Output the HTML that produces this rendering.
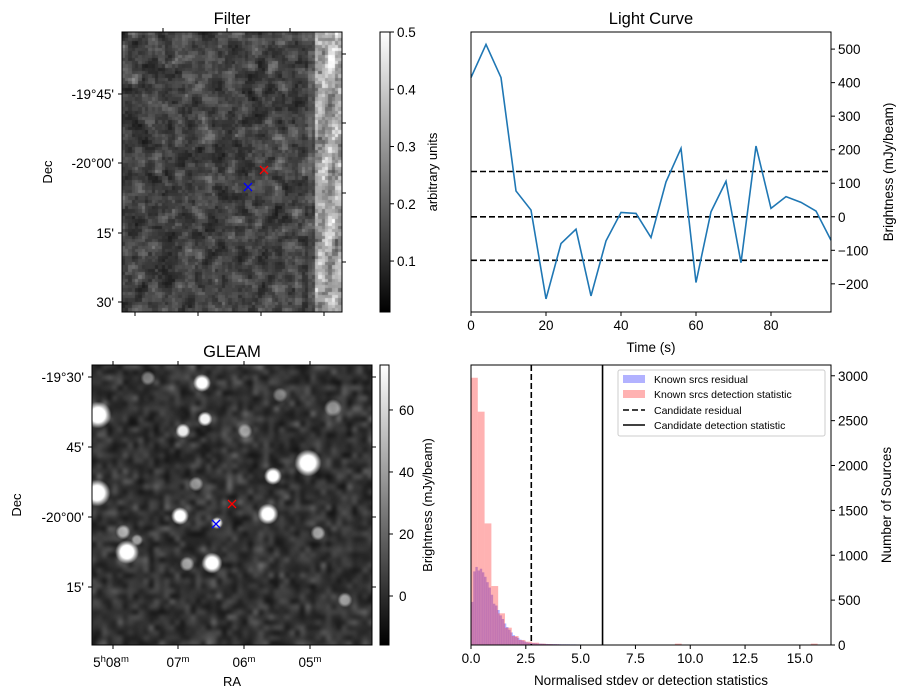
<!DOCTYPE html>
<html><head><meta charset="utf-8">
<style>
body{margin:0;background:#fff;}
#wrap{position:relative;width:907px;height:699px;overflow:hidden;font-family:"Liberation Sans","DejaVu Sans",sans-serif;}
canvas{position:absolute;}
svg{position:absolute;left:0;top:0;}
text{font-family:"Liberation Sans","DejaVu Sans",sans-serif;fill:#000;}
</style></head>
<body>
<div id="wrap">
<canvas id="filterImg" width="220" height="280" style="left:122px;top:32px;width:220px;height:280px"></canvas>
<canvas id="gleamImg" width="280" height="280" style="left:92px;top:365px;width:280px;height:280px"></canvas>
<svg id="svg" width="907" height="699">
<defs>
<linearGradient id="cbar" x1="0" y1="1" x2="0" y2="0"><stop offset="0" stop-color="#000"/><stop offset="1" stop-color="#fff"/></linearGradient>
</defs>
</svg>
</div>
<script>
// ---------- Light curve data ----------
const lcTimes = [0,4,8,12,16,20,24,28,32,36,40,44,48,52,56,60,64,68,72,76,80,84,88,92,96];
const lcValues = [415,514,415,77,20,-245,-80,-37,-236,-72,13,10,-62,104,204,-196,15,106,-137,211,25,60,43,17,-70];
const lcThresholds = [135,0,-130];
const lcXTicks = [0,20,40,60,80];
const lcYTicks = [-200,-100,0,100,200,300,400,500];
// ---------- Histogram data ----------
const redBinWidth = 0.31;
const redCounts = [2978,2600,1355,657,353,193,100,56,37,26,15,10,8,6,5,5,4,4,3,3,2,0,2,0,0,0,0,0,0,0,15,0,0,0,0,0,0,0,0,0,0,0,0,0,0,0,0,0,0,0,15];
const blueBinWidth = 0.1;
const blueCounts = [480,820,870,830,850,810,760,700,640,560,460,440,390,330,290,240,200,170,140,110,90,80,60,50,40,30,25,20,20,18,16,15,14,12,12,11,10,10,10,9,9,8,8,8,8,7,7,7,6,6];
const candResidual = 2.75;
const candDetection = 6.0;
const histXTicks = [0,2.5,5,7.5,10,12.5,15];
const histXLabels = ["0.0","2.5","5.0","7.5","10.0","12.5","15.0"];
const histYTicks = [0,500,1000,1500,2000,2500,3000];
// ---------- Image axes ----------
const filterYTickLabels = ["-19°45'","-20°00'","15'","30'"];
const gleamYTickLabels = ["-19°30'","45'","-20°00'","15'"];
const gleamXTickLabels = ["08","07","06","05"];
const filterCbarTicks = [0.1,0.2,0.3,0.4,0.5];
const gleamCbarTicks = [0,20,40,60];
const gleamSources = [[202,383,6,1],[98,415,9,1],[205,419,5,0.95],[183,431,5,0.9],[245,431,5,0.5],[308,463,9,1],[273,476,6,1],[97,493,9,1],[196,484,5,0.5],[180,516,6,1],[217,523,4,0.9],[268,514,7,1],[123,532,5,0.6],[127,552,8,1],[137,540,4,0.5],[212,563,7,1],[187,564,5,0.55],[318,533,5,0.55],[345,600,5,0.5],[333,408,6,0.45],[148,378,5,0.4],[280,395,5,0.35]];

const NS="http://www.w3.org/2000/svg";
const svg=document.getElementById('svg');
function mk(tag,attrs,parent,name,inter){const e=document.createElementNS(NS,tag);for(const k in attrs)e.setAttribute(k,attrs[k]);


(parent||svg).appendChild(e);return e;}
function txt(s,x,y,opts,name){const o=Object.assign({x:x,y:y,'font-size':13.5},opts||{});const t=mk('text',o,opts&&opts.parent||svg,name);t.removeAttribute('parent');t.textContent=s;return t;}

// ===== Light curve =====
const LC={l:471,r:831,t:32,b:312,x0:0,x1:96,y0:-284,y1:551};
const lx=v=>LC.l+(v-LC.x0)/(LC.x1-LC.x0)*(LC.r-LC.l);
const ly=v=>LC.b-(v-LC.y0)/(LC.y1-LC.y0)*(LC.b-LC.t);
const gLC=mk('g',{},svg,'light-curve-panel');
lcThresholds.forEach((v,i)=>mk('line',{x1:LC.l,x2:LC.r,y1:ly(v),y2:ly(v),stroke:'#000','stroke-width':1.6,'stroke-dasharray':'6,3'},gLC,'threshold-line-'+i));
mk('polyline',{points:lcTimes.map((t,i)=>lx(t)+','+ly(lcValues[i])).join(' '),fill:'none',stroke:'#1f77b4','stroke-width':1.6},gLC,'light-curve-line');
mk('rect',{x:LC.l,y:LC.t,width:LC.r-LC.l,height:LC.b-LC.t,fill:'none',stroke:'#000','stroke-width':1},gLC,'light-curve-frame');
lcXTicks.forEach(v=>{mk('line',{x1:lx(v),x2:lx(v),y1:LC.b,y2:LC.b+4,stroke:'#000'},gLC,'x-tick');txt(String(v),lx(v),LC.b+18,{'text-anchor':'middle',parent:gLC},'x-tick-label');});
lcYTicks.forEach(v=>{mk('line',{x1:LC.r,x2:LC.r+4,y1:ly(v),y2:ly(v),stroke:'#000'},gLC,'y-tick');txt(String(v).replace('-','\u2212'),LC.r+7,ly(v)+5,{parent:gLC},'y-tick-label');});
txt('Light Curve',651,24,{'text-anchor':'middle','font-size':16.5,parent:gLC},'light-curve-title');
txt('Time (s)',651,352,{'text-anchor':'middle',parent:gLC},'x-axis-title');
txt('Brightness (mJy/beam)',0,0,{'text-anchor':'middle',transform:'translate(893,172) rotate(-90)',parent:gLC},'y-axis-title');

// ===== Histogram =====
const H={l:471,r:831,t:365,b:645,x0:0,x1:16.42,y0:0,y1:3120};
const hx=v=>H.l+(v-H.x0)/(H.x1-H.x0)*(H.r-H.l);
const hy=v=>H.b-(v-H.y0)/(H.y1-H.y0)*(H.b-H.t);
const gH=mk('g',{},svg,'histogram-panel');
blueCounts.forEach((c,i)=>{if(c>0)mk('rect',{x:hx(i*blueBinWidth),y:hy(c),width:hx((i+1)*blueBinWidth)-hx(i*blueBinWidth)+0.2,height:H.b-hy(c),fill:'rgb(0,0,255)','fill-opacity':0.3},gH,'blue-bar-'+i);});
redCounts.forEach((c,i)=>{if(c>0)mk('rect',{x:hx(i*redBinWidth),y:hy(c),width:hx((i+1)*redBinWidth)-hx(i*redBinWidth),height:H.b-hy(c),fill:'rgb(255,0,0)','fill-opacity':0.3},gH,'red-bar-'+i);});
mk('line',{x1:hx(candResidual),x2:hx(candResidual),y1:H.t,y2:H.b,stroke:'#000','stroke-width':1.6,'stroke-dasharray':'6,3'},gH,'candidate-residual-line');
mk('line',{x1:hx(candDetection),x2:hx(candDetection),y1:H.t,y2:H.b,stroke:'#000','stroke-width':1.6},gH,'candidate-detection-line');
mk('rect',{x:H.l,y:H.t,width:H.r-H.l,height:H.b-H.t,fill:'none',stroke:'#000'},gH,'histogram-frame');
histXTicks.forEach((v,i)=>{mk('line',{x1:hx(v),x2:hx(v),y1:H.b,y2:H.b+4,stroke:'#000'},gH,'x-tick');txt(histXLabels[i],hx(v),H.b+18,{'text-anchor':'middle',parent:gH},'x-tick-label');});
histYTicks.forEach(v=>{mk('line',{x1:H.r,x2:H.r+4,y1:hy(v),y2:hy(v),stroke:'#000'},gH,'y-tick');txt(String(v),H.r+7,hy(v)+5,{parent:gH},'y-tick-label');});
txt('Normalised stdev or detection statistics',651,685,{'text-anchor':'middle',parent:gH},'x-axis-title');
txt('Number of Sources',0,0,{'text-anchor':'middle',transform:'translate(891,505) rotate(-90)',parent:gH},'y-axis-title');
// legend
const gL=mk('g',{},gH,'legend');
mk('rect',{x:618,y:370,width:207,height:66,rx:2,fill:'#fff','fill-opacity':0.8,stroke:'#ccc'},gL,'legend-box');
mk('rect',{x:623,y:375,width:22,height:8,fill:'rgb(0,0,255)','fill-opacity':0.3},gL,'legend-patch-blue');
txt('Known srcs residual',654,383,{'font-size':10.5,parent:gL},'legend-entry');
mk('rect',{x:623,y:390,width:22,height:8,fill:'rgb(255,0,0)','fill-opacity':0.3},gL,'legend-patch-red');
txt('Known srcs detection statistic',654,398,{'font-size':10.5,parent:gL},'legend-entry');
mk('line',{x1:623,x2:645,y1:410,y2:410,stroke:'#000','stroke-width':1.6,'stroke-dasharray':'6,3'},gL,'legend-line-dashed');
txt('Candidate residual',654,414,{'font-size':10.5,parent:gL},'legend-entry');
mk('line',{x1:623,x2:645,y1:425,y2:425,stroke:'#000','stroke-width':1.6},gL,'legend-line-solid');
txt('Candidate detection statistic',654,429,{'font-size':10.5,parent:gL},'legend-entry');

// ===== Seeded texture for images =====
function rng(seed){return function(){seed|=0;seed=seed+0x6D2B79F5|0;let t=Math.imul(seed^seed>>>15,1|seed);t=t+Math.imul(t^t>>>7,61|t)^t;return((t^t>>>14)>>>0)/4294967296;};}
// Filter image
(function(){const c=document.getElementById('filterImg'),ctx=c.getContext('2d');const R=rng(7);
const cols=66,rows=85,cw=220/cols,ch=280/rows;
const base=[];for(let j=0;j<rows;j++){base.push([]);for(let i=0;i<cols;i++)base[j].push(R());}
const sm=(j,i)=>{let s=0,n=0;for(let dj=-1;dj<=1;dj++)for(let di=-1;di<=1;di++){const a=j+dj,b=i+di;if(a>=0&&a<rows&&b>=0&&b<cols){const w=(dj==0&&di==0)?2:1;s+=base[a][b]*w;n+=w;}}return s/n;};
for(let j=0;j<rows;j++)for(let i=0;i<cols;i++){let v=sm(j,i);v=0.03+Math.pow(v,2)*0.32+R()*0.04;
 const px=i*cw; if(px>190){v+=0.14+R()*0.12+0.06*Math.sin(j*0.25+i);} else if(px>185)v+=0.04;
 const g=Math.max(0,Math.min(255,Math.round(v*255/0.5)));ctx.fillStyle=`rgb(${g},${g},${g})`;ctx.fillRect(Math.floor(px),Math.floor(j*ch),Math.ceil(cw)+1,Math.ceil(ch)+1);}
})();
// GLEAM image
(function(){const c=document.getElementById('gleamImg'),ctx=c.getContext('2d');const R=rng(3);
const n=56,off=document.createElement('canvas');off.width=n;off.height=n;const o=off.getContext('2d');
for(let j=0;j<n;j++)for(let i=0;i<n;i++){const v=(R()+R()+R())/3;const g=Math.round(15+Math.pow(v,1.8)*120);o.fillStyle=`rgb(${g},${g},${g})`;o.fillRect(i,j,1,1);}
ctx.imageSmoothingEnabled=true;ctx.filter='blur(1.5px)';ctx.drawImage(off,-6,-6,292,292);ctx.filter='none';
gleamSources.forEach(s=>{const x=s[0]-92,y=s[1]-365,r=s[2],a=s[3];const gr=ctx.createRadialGradient(x,y,0,x,y,r*1.5);
 gr.addColorStop(0,`rgba(255,255,255,${a})`);gr.addColorStop(0.55,`rgba(255,255,255,${a})`);gr.addColorStop(1,'rgba(255,255,255,0)');ctx.fillStyle=gr;ctx.beginPath();ctx.arc(x,y,r*1.5,0,7);ctx.fill();});
})();

// ===== Filter axes =====
const gF=mk('g',{},svg,'filter-panel');
mk('rect',{x:122,y:32,width:220,height:280,fill:'none',stroke:'#000'},gF,'filter-frame');
[94,163,233,302].forEach((y,i)=>{mk('line',{x1:118,x2:122,y1:y,y2:y,stroke:'#000'},gF,'y-tick');txt(filterYTickLabels[i],114,y+5,{'text-anchor':'end',parent:gF},'y-tick-label');});
[163,227,290].forEach(x=>mk('line',{x1:x,x2:x,y1:28,y2:32,stroke:'#000'},gF,'top-tick'));
[135,198,261,324].forEach(x=>mk('line',{x1:x,x2:x,y1:312,y2:316,stroke:'#000'},gF,'bottom-tick'));
[54,123,193,262].forEach(y=>mk('line',{x1:342,x2:346,y1:y,y2:y,stroke:'#000'},gF,'right-tick'));
txt('Filter',232,24,{'text-anchor':'middle','font-size':16.5,parent:gF},'filter-title');
txt('Dec',0,0,{'text-anchor':'middle','font-size':13,transform:'translate(52,172) rotate(-90)',parent:gF},'y-axis-title');
function cross(x,y,col,g,name){mk('path',{d:`M${x-4},${y-4}L${x+4},${y+4}M${x-4},${y+4}L${x+4},${y-4}`,stroke:col,'stroke-width':1.3},g,name);}
cross(264,170,'#f00',gF,'candidate-marker-red');cross(248,187,'#00f',gF,'candidate-marker-blue');
const fcb=v=>32+(0.5-v)/(0.5-0.011)*280;
mk('rect',{x:380,y:32,width:10,height:280,fill:'url(#cbar)',stroke:'#000'},gF,'filter-colorbar');
filterCbarTicks.forEach(v=>{mk('line',{x1:390,x2:394,y1:fcb(v),y2:fcb(v),stroke:'#000'},gF,'cbar-tick');txt(v.toFixed(1),397,fcb(v)+5,{parent:gF},'cbar-tick-label');});
txt('arbitrary units',0,0,{'text-anchor':'middle','font-size':13,transform:'translate(437,172) rotate(-90)',parent:gF},'colorbar-title');

// ===== GLEAM axes =====
const gG=mk('g',{},svg,'gleam-panel');
mk('rect',{x:92,y:365,width:280,height:280,fill:'none',stroke:'#000'},gG,'gleam-frame');
[377,447,517,587].forEach((y,i)=>{mk('line',{x1:88,x2:92,y1:y,y2:y,stroke:'#000'},gG,'y-tick');mk('line',{x1:372,x2:376,y1:y,y2:y,stroke:'#000'},gG,'right-tick');txt(gleamYTickLabels[i],84,y+5,{'text-anchor':'end',parent:gG},'y-tick-label');});
[113,178,244,310].forEach((x,i)=>{mk('line',{x1:x,x2:x,y1:645,y2:649,stroke:'#000'},gG,'x-tick');mk('line',{x1:x,x2:x,y1:361,y2:365,stroke:'#000'},gG,'top-tick');
 const t=txt('',x+(i==0?-2:0),667,{'text-anchor':'middle',parent:gG},'x-tick-label');
 if(i==0){t.innerHTML='5<tspan dy="-5" font-size="9.5">h</tspan><tspan dy="5">08</tspan><tspan dy="-5" font-size="9.5">m</tspan>';}
 else{t.innerHTML=gleamXTickLabels[i]+'<tspan dy="-5" font-size="9.5">m</tspan>';}});
txt('GLEAM',232,357,{'text-anchor':'middle','font-size':16.5,parent:gG},'gleam-title');
txt('RA',232,686,{'text-anchor':'middle','font-size':13,parent:gG},'x-axis-title');
txt('Dec',0,0,{'text-anchor':'middle','font-size':13,transform:'translate(21,505) rotate(-90)',parent:gG},'y-axis-title');
cross(232,504,'#f00',gG,'candidate-marker-red');cross(216,524,'#00f',gG,'candidate-marker-blue');
const gcb=v=>365+(74.5-v)/(74.5+15.8)*280;
mk('rect',{x:380,y:365,width:9,height:280,fill:'url(#cbar)',stroke:'#000'},gG,'gleam-colorbar');
gleamCbarTicks.forEach(v=>{mk('line',{x1:389,x2:393,y1:gcb(v),y2:gcb(v),stroke:'#000'},gG,'cbar-tick');txt(String(v),399,gcb(v)+5,{parent:gG},'cbar-tick-label');});
txt('Brightness (mJy/beam)',0,0,{'text-anchor':'middle','font-size':13,transform:'translate(432,505) rotate(-90)',parent:gG},'colorbar-title');
</script>
</body></html>
